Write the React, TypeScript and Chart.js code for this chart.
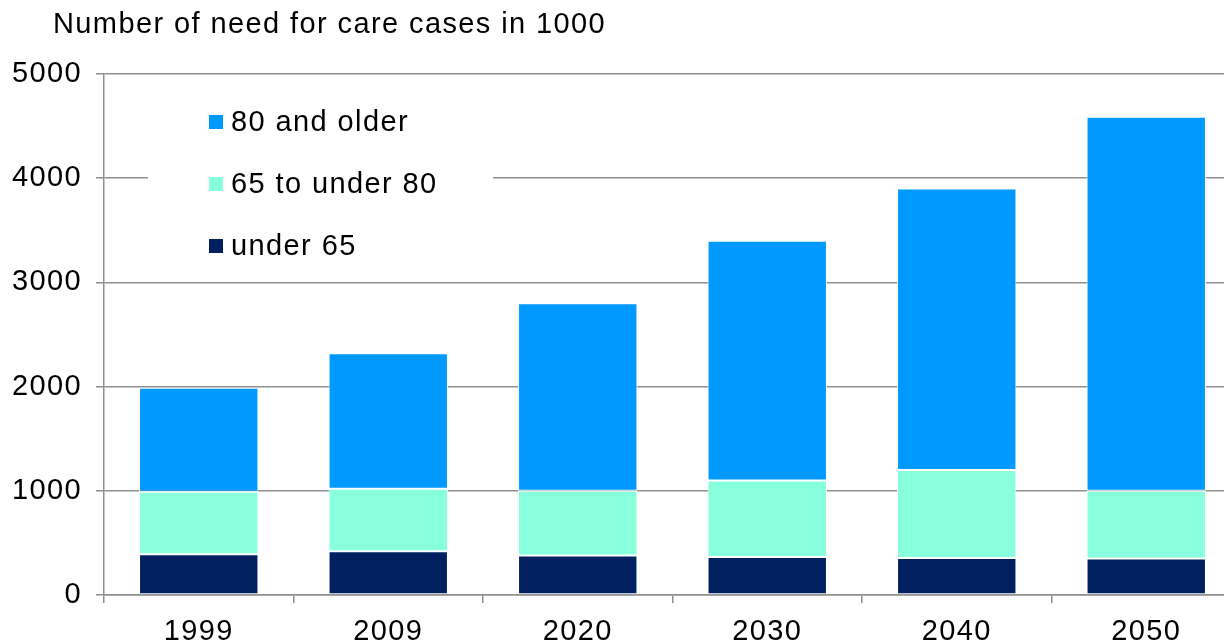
import React, { useEffect, useRef } from "react";
import { Chart, registerables } from "chart.js";

Chart.register(...registerables);

// ---- data ----
const categories = ["1999", "2009", "2020", "2030", "2040", "2050"];
const under65 = [390, 420, 380, 365, 355, 350];
const age65to80 = [600, 600, 620, 735, 845, 650];
const age80plus = [1000, 1300, 1800, 2300, 2700, 3590];
const yTicks = [0, 1000, 2000, 3000, 4000, 5000];
const titleText = "Number of need for care cases in 1000";
const seriesLabels = ["under 65", "65 to under 80", "80 and older"];
const seriesColors = ["#002060", "#88FFDD", "#0099FF"];

const FAMILY = '"Liberation Sans", Arial, sans-serif';
const FONT_SIZE = 29;
const SPACING = "1.4px";
const GRID = "#8f8f8f";

const spacingPlugin = {
  id: "letterSpacing",
  beforeUpdate(chart: any) {
    chart.ctx.letterSpacing = SPACING;
  },
  beforeDraw(chart: any) {
    chart.ctx.letterSpacing = SPACING;
  },
};

const titlePlugin = {
  id: "leftTitle",
  afterDraw(chart: any) {
    const { ctx } = chart;
    ctx.save();
    ctx.letterSpacing = SPACING;
    ctx.font = `${FONT_SIZE}px ${FAMILY}`;
    ctx.fillStyle = "#000000";
    ctx.textAlign = "left";
    ctx.textBaseline = "alphabetic";
    ctx.fillText(titleText, 53, 32.5);
    ctx.restore();
  },
};

const insideLegend = {
  id: "insideLegend",
  afterDraw(chart: any) {
    const { ctx, chartArea } = chart;
    const datasets = chart.data.datasets;
    ctx.save();
    ctx.letterSpacing = SPACING;
    ctx.fillStyle = "#ffffff";
    ctx.fillRect(chartArea.left + 44, chartArea.top + 18, 345, 180);
    ctx.font = `${FONT_SIZE}px ${FAMILY}`;
    ctx.textBaseline = "middle";
    ctx.textAlign = "left";
    const order = datasets.map((_: any, i: number) => i).reverse();
    order.forEach((di: number, row: number) => {
      const ds = datasets[di];
      const cy = chartArea.top + 48 + row * 62;
      ctx.fillStyle = ds.backgroundColor;
      ctx.fillRect(chartArea.left + 105, cy - 7, 14, 14);
      ctx.fillStyle = "#000000";
      ctx.fillText(ds.label, chartArea.left + 127, cy + 1);
    });
    ctx.restore();
  },
};

export default function App() {
  const ref = useRef<HTMLCanvasElement>(null);

  useEffect(() => {
    if (!ref.current) return;
    const values = [under65, age65to80, age80plus];
    const font = { family: FAMILY, size: FONT_SIZE, weight: "normal" as const };
    const chart = new Chart(ref.current, {
      type: "bar",
      data: {
        labels: categories,
        datasets: values.map((v, i) => ({
          label: seriesLabels[i],
          data: v,
          backgroundColor: seriesColors[i],
          borderColor: "#ffffff",
          borderWidth: 1,
          borderSkipped: false,
          barPercentage: 0.63,
          categoryPercentage: 1,
        })),
      },
      options: {
        responsive: false,
        animation: false,
        devicePixelRatio: 1,
        layout: { padding: { left: 0, right: 9, top: 74, bottom: 0 } },
        plugins: {
          legend: { display: false },
          tooltip: { enabled: false },
          title: { display: false },
        },
        scales: {
          x: {
            stacked: true,
            grid: {
              drawOnChartArea: false,
              drawTicks: true,
              tickLength: 8,
              color: GRID,
              lineWidth: 1.5,
            },
            border: { color: GRID, width: 1.5 },
            ticks: { color: "#000000", font, padding: 12 },
            afterFit: (s: any) => {
              s.height = 48;
            },
          },
          y: {
            stacked: true,
            min: 0,
            max: 5000,
            afterBuildTicks: (s: any) => {
              s.ticks = yTicks.map((v) => ({ value: v }));
            },
            ticks: {
              color: "#000000",
              font,
              padding: 14,
              callback: (v: any) => String(v),
            },
            grid: { color: GRID, lineWidth: 1.5, tickLength: 8 },
            border: { color: GRID, width: 1.5 },
            afterFit: (s: any) => {
              s.width = 104;
            },
          },
        },
      },
      plugins: [spacingPlugin, titlePlugin, insideLegend],
    });
    return () => chart.destroy();
  }, []);

  return (
    <div
      style={{
        position: "fixed",
        left: 0,
        top: 0,
        width: 1224,
        height: 643,
        overflow: "hidden",
        background: "#ffffff",
      }}
    >
      <canvas ref={ref} width={1250} height={643} style={{ display: "block" }} />
    </div>
  );
}
